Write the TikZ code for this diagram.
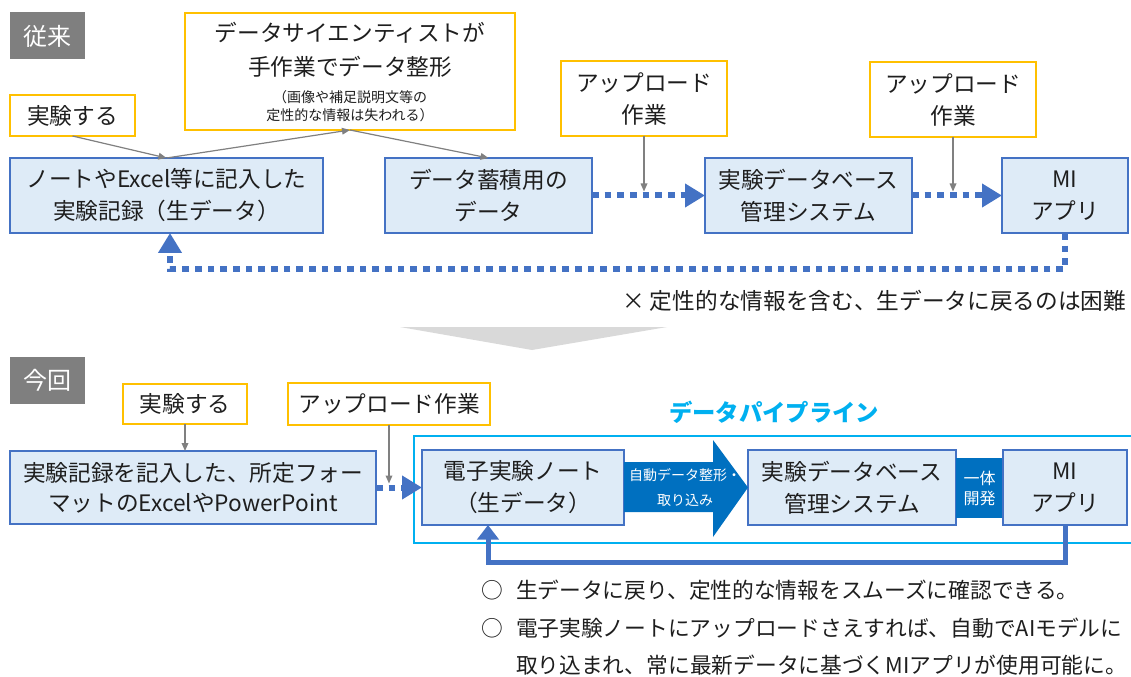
\documentclass[tikz,border=0pt]{standalone}
\usepackage{fontspec}
\setmainfont{Noto Sans CJK JP}
\usetikzlibrary{arrows.meta}
\definecolor{bfill}{HTML}{DEEBF7}
\definecolor{bline}{HTML}{4472C4}
\definecolor{orng}{HTML}{FFC000}
\definecolor{lbl}{HTML}{7F7F7F}
\definecolor{cyn}{HTML}{00B0F0}
\definecolor{dblue}{HTML}{0070C0}
\definecolor{chev}{HTML}{D9D9D9}
\definecolor{garr}{HTML}{808080}
\definecolor{txt}{HTML}{1E1E1E}
\begin{document}
\begin{tikzpicture}[x=0.75pt,y=-0.75pt,
  sz/.style 2 args={minimum width=#1*0.75pt, minimum height=#2*0.75pt},
  base/.style={inner sep=0pt, outer sep=0pt, align=center, text=txt, font=\fontsize{17}{24}\selectfont},
  bluebox/.style={base, rectangle, draw=bline, fill=bfill, line width=1.5pt},
  orbox/.style={base, rectangle, draw=orng, fill=white, line width=1.6pt},
  tag/.style={base, fill=lbl, text=white, font=\fontsize{18}{22}\selectfont},
  plain/.style={base, anchor=west},
  bullet/.style={base, anchor=west, font=\fontsize{16.3}{22}\selectfont},
  garrow/.style={draw=garr, line width=0.9pt, -{Triangle[length=6pt,width=5pt]}},
  dotarrow/.style={draw=bline, line width=4.5pt, dash pattern=on 5pt off 4.5pt, -{Triangle[length=15pt,width=17pt]}},
  solidarrow/.style={draw=bline, line width=3.75pt, -{Triangle[length=11pt,width=16pt]}}
]
\useasboundingbox (0,0) rectangle (1131,677);
\fill[white] (0,0) rectangle (1131,677);

% ---------------- top (従来) ----------------
\node[tag, sz={75}{47}] (juurai) at (47.5,36) {従来};

\node[orbox, sz={125}{41}] (exp1) at (72.5,115.5) {実験する};
\node[orbox, sz={330}{117}] (ds) at (350,71.5) {};
\node[base] (dst1) at (350,33) {データサイエンティストが};
\node[base] (dst2) at (350,67) {手作業でデータ整形};
\node[base, font=\fontsize{10.5}{13.5}\selectfont] (dst3) at (350,106) {（画像や補足説明文等の\\定性的な情報は失われる）};

\node[bluebox, sz={313}{75}] (rec) at (166.5,195.5) {ノートやExcel等に記入した\\実験記録（生データ）};
\node[bluebox, sz={207}{75}] (acc) at (488.5,195.5) {データ蓄積用の\\データ};
\node[orbox, sz={166}{75}] (up1) at (644,98.5) {アップロード\\作業};
\node[bluebox, sz={207}{75}] (db) at (808.5,195.5) {実験データベース\\管理システム};
\node[orbox, sz={166}{75}] (up2) at (953,99.5) {アップロード\\作業};
\node[bluebox, sz={126}{75}] (mi) at (1065,195.5) {MI\\アプリ};

\draw[garrow] (exp1.south) -- (rec.north);
\draw[garrow] (rec.north) -- (ds.south);
\draw[garrow] (ds.south) -- (acc.north);

\draw[dotarrow] (acc.east) -- (db.west);
\draw[dotarrow] (db.east) -- (mi.west);
\draw[garrow, shorten >=3pt] (up1.south) -- (up1.south |- acc.east);
\draw[garrow, shorten >=3pt] (up2.south) -- (up2.south |- db.east);

\coordinate (r1) at (170,269);
\draw[dotarrow] (mi.south) |- (r1) -- (r1 |- rec.south);

\node[base, anchor=east] (ng) at (1126,301) {× 定性的な情報を含む、生データに戻るのは困難};

% chevron
\fill[chev] (400,327) -- (667,327) -- (532,350) -- cycle;

% ---------------- bottom (今回) ----------------
\node[tag, sz={75}{47}] (konkai) at (47.5,380.5) {今回};

\node[base, text=cyn, font=\fontsize{17.5}{22}\selectfont\bfseries] (pipet) at (774,412) {データパイプライン};
\node[draw=cyn, line width=1.5pt, inner sep=0pt, sz={740}{107}, anchor=north west] (pipe) at (413,435) {};

\node[orbox, sz={124}{40}] (exp2) at (185,404) {実験する};
\node[orbox, sz={202}{42}] (up3) at (389,404) {アップロード作業};
\node[bluebox, sz={366}{73}, font=\fontsize{17}{22.5}\selectfont] (rec2) at (193,487.5) {実験記録を記入した、所定フォー\\マットのExcelやPowerPoint};

\node[bluebox, sz={202}{75}] (enb) at (523,487.5) {電子実験ノート\\（生データ）};
\node[bluebox, sz={208}{75}] (db2) at (852,487.5) {実験データベース\\管理システム};
\node[base, fill=dblue, text=white, sz={47}{60}, font=\fontsize{12}{15}\selectfont] (ittai) at (979.5,488) {一体\\開発};
\node[bluebox, sz={124}{75}] (mi2) at (1065,487.5) {MI\\アプリ};

% big arrow
\fill[dblue] (enb.east |- 0,462) -- (713,462) -- (713,440) -- (db2.west) -- (713,537) -- (713,512) -- (enb.east |- 0,512) -- cycle;
\node[base, text=white, font=\fontsize{10.5}{18.5}\selectfont] (autotxt) at (685,487.5) {自動データ整形・\\取り込み};

\draw[garrow] (exp2.south) -- (exp2.south |- rec2.north);
\draw[garrow, shorten >=3pt] (up3.south) -- (up3.south |- rec2.east);
\draw[dotarrow] (rec2.east) -- (enb.west);

\coordinate (r2) at (488,562);
\draw[solidarrow] (mi2.south) |- (r2) -- (r2 |- enb.south);

\node[base, font=\fontsize{16.3}{22}\selectfont] (c1) at (492,590) {○};
\node[bullet] (b1) at (516,590) {生データに戻り、定性的な情報をスムーズに確認できる。};
\node[base, font=\fontsize{16.3}{22}\selectfont] (c2) at (492,628) {○};
\node[bullet] (b2) at (516,628) {電子実験ノートにアップロードさえすれば、自動でAIモデルに};
\node[bullet] (b3) at (516,665) {取り込まれ、常に最新データに基づくMIアプリが使用可能に。};
\end{tikzpicture}
\end{document}
